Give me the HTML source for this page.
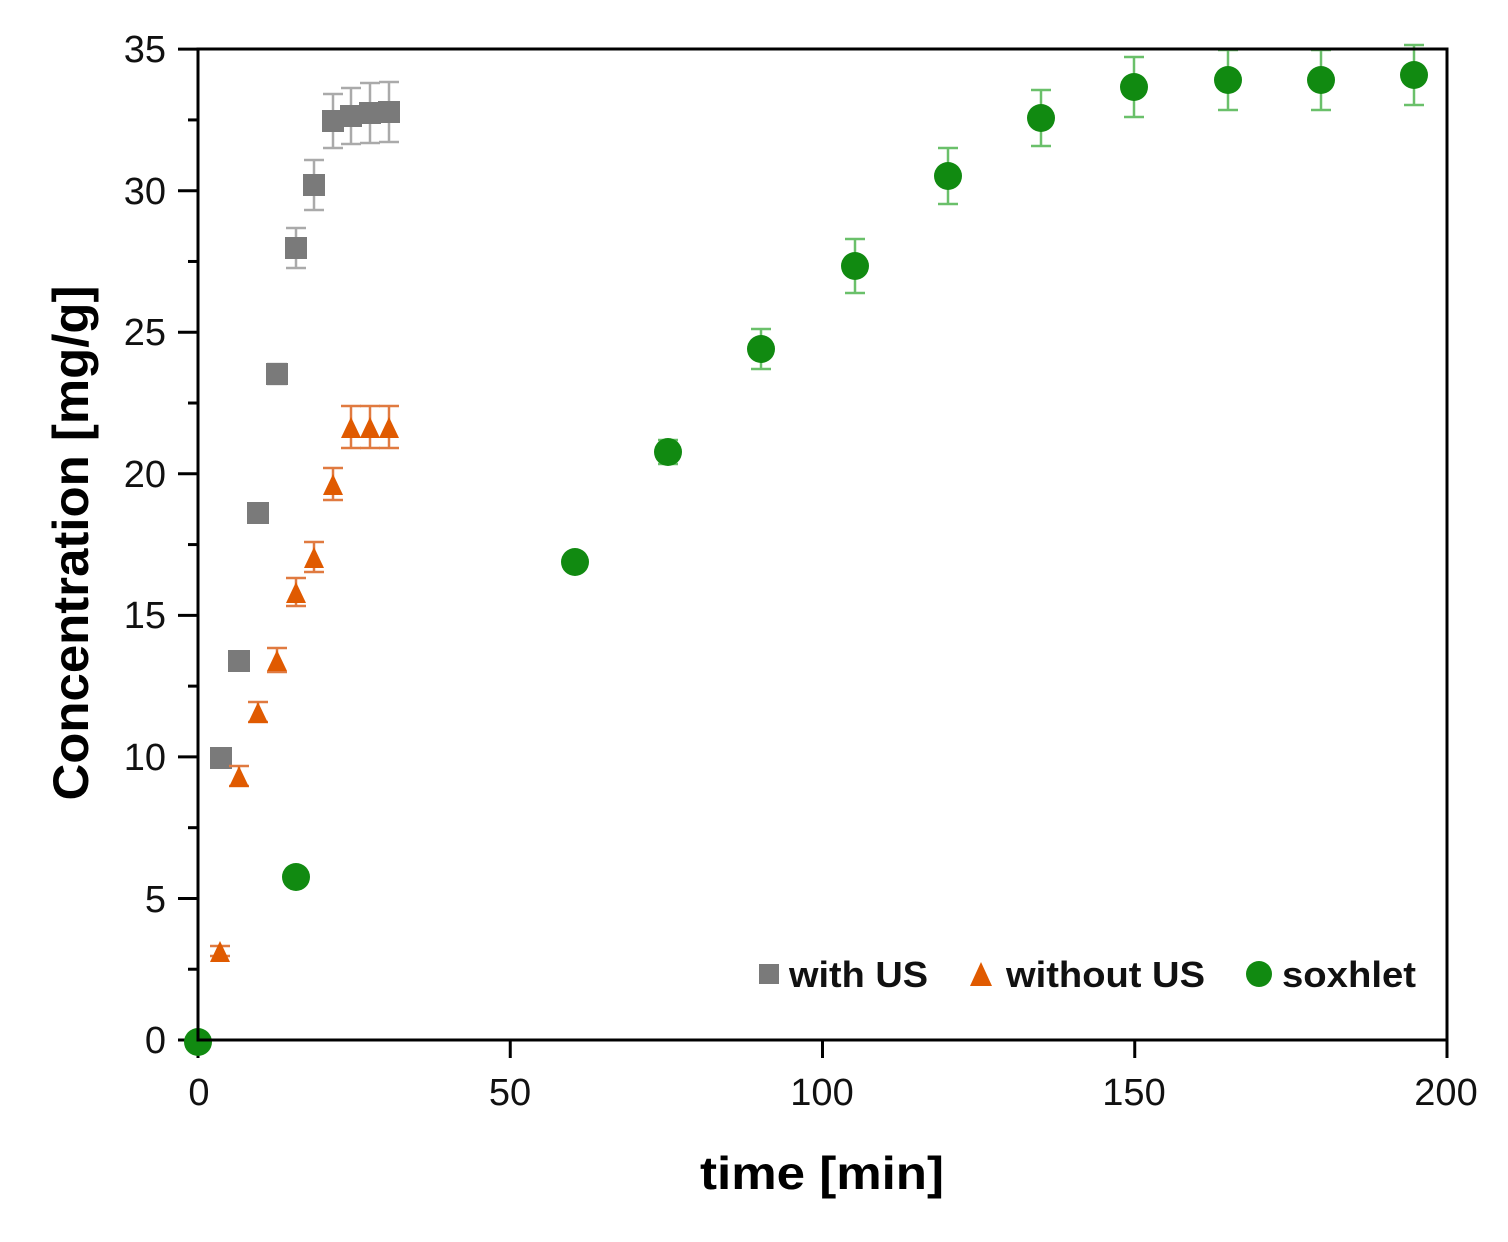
<!DOCTYPE html>
<html><head><meta charset="utf-8"><style>
html,body{margin:0;padding:0;background:#fff;}
svg{display:block;font-family:"Liberation Sans",Arial,sans-serif;}
</style></head><body>
<svg id="s" width="1508" height="1242" xmlns="http://www.w3.org/2000/svg">
<rect width="1508" height="1242" fill="#fff"/>
<g id="g"></g>
<rect x="198" y="49" width="1249" height="991" fill="none" stroke="#000" stroke-width="3"/>
<g font-size="38" fill="#111" text-anchor="end">
<text x="166" y="1053">0</text><text x="166" y="912">5</text><text x="166" y="770">10</text>
<text x="166" y="628">15</text><text x="166" y="487">20</text><text x="166" y="345">25</text>
<text x="166" y="204">30</text><text x="166" y="62">35</text>
</g>
<g font-size="38" fill="#111" text-anchor="middle">
<text x="199" y="1105">0</text><text x="510" y="1105">50</text><text x="822" y="1105">100</text>
<text x="1134" y="1105">150</text><text x="1446" y="1105">200</text>
</g>
<text x="822" y="1189" font-size="46" font-weight="bold" text-anchor="middle" textLength="244" lengthAdjust="spacingAndGlyphs">time [min]</text>
<text transform="translate(88,543) rotate(-90)" font-size="50" font-weight="bold" text-anchor="middle" textLength="515" lengthAdjust="spacingAndGlyphs">Concentration [mg/g]</text>
<g font-size="36" font-weight="bold" fill="#111">
<rect x="759" y="964" width="20" height="20" fill="#7a7a7a"/>
<text x="789" y="987" textLength="139" lengthAdjust="spacingAndGlyphs">with US</text>
<polygon points="981,962 970,986 992,986" fill="#e05a00"/>
<text x="1006" y="987" textLength="199" lengthAdjust="spacingAndGlyphs">without US</text>
<circle cx="1259" cy="974" r="13" fill="#118a11"/>
<text x="1282" y="987" textLength="134" lengthAdjust="spacingAndGlyphs">soxhlet</text>
</g>
</svg>
<script>
var g=document.getElementById('g'),h='';
function L(x1,y1,x2,y2,c,w){h+='<line x1="'+x1+'" y1="'+y1+'" x2="'+x2+'" y2="'+y2+'" stroke="'+c+'" stroke-width="'+w+'"/>';}
for(var i=0;i<=14;i++){var y=1040-i*28.31*2.5;L(198,y,i%2?188:178,y,'#000',3);}
for(i=0;i<=4;i++){var x=198+i*312.25;L(x,1040,x,1058,'#000',3);}
function E(x,y,e,c){if(!e)return;L(x,y-e,x,y+e,c,2.5);L(x-10,y-e,x+10,y-e,c,2.5);L(x-10,y+e,x+10,y+e,c,2.5);}
var sq=[[221,758,0],[239,661,4],[258,513,8],[277,374,10],[296,248,20],[314,185,25],[333,121,27],[351,116,28],[370,113,30],[389,112,30]];
var tr=[[220,953,5],[239,778,10],[258,714,10],[277,662,12],[296,594,14],[314,559,15],[333,486,16],[351,429,21],[370,429,21],[389,429,21]];
var ci=[[198,1042,0],[296,877,0],[575,562,8],[668,452,12],[761,349,20],[855,266,27],[948,176,28],[1041,118,28],[1134,87,30],[1228,80,30],[1321,80,30],[1414,75,30]];
sq.forEach(function(p){E(p[0],p[1],p[2],'#aaa');});
sq.forEach(function(p){h+='<rect x="'+(p[0]-11)+'" y="'+(p[1]-11)+'" width="22" height="22" fill="#7a7a7a"/>';});
tr.forEach(function(p){E(p[0],p[1]-2,p[2],'#e07a40');h+='<polygon points="'+p[0]+','+(p[1]-12)+' '+(p[0]-10)+','+(p[1]+9)+' '+(p[0]+10)+','+(p[1]+9)+'" fill="#e05a00"/>';});
ci.forEach(function(p){E(p[0],p[1],p[2],'#6ac06a');h+='<circle cx="'+p[0]+'" cy="'+p[1]+'" r="14" fill="#118a11"/>';});
g.innerHTML=h;
</script>
</body></html>
